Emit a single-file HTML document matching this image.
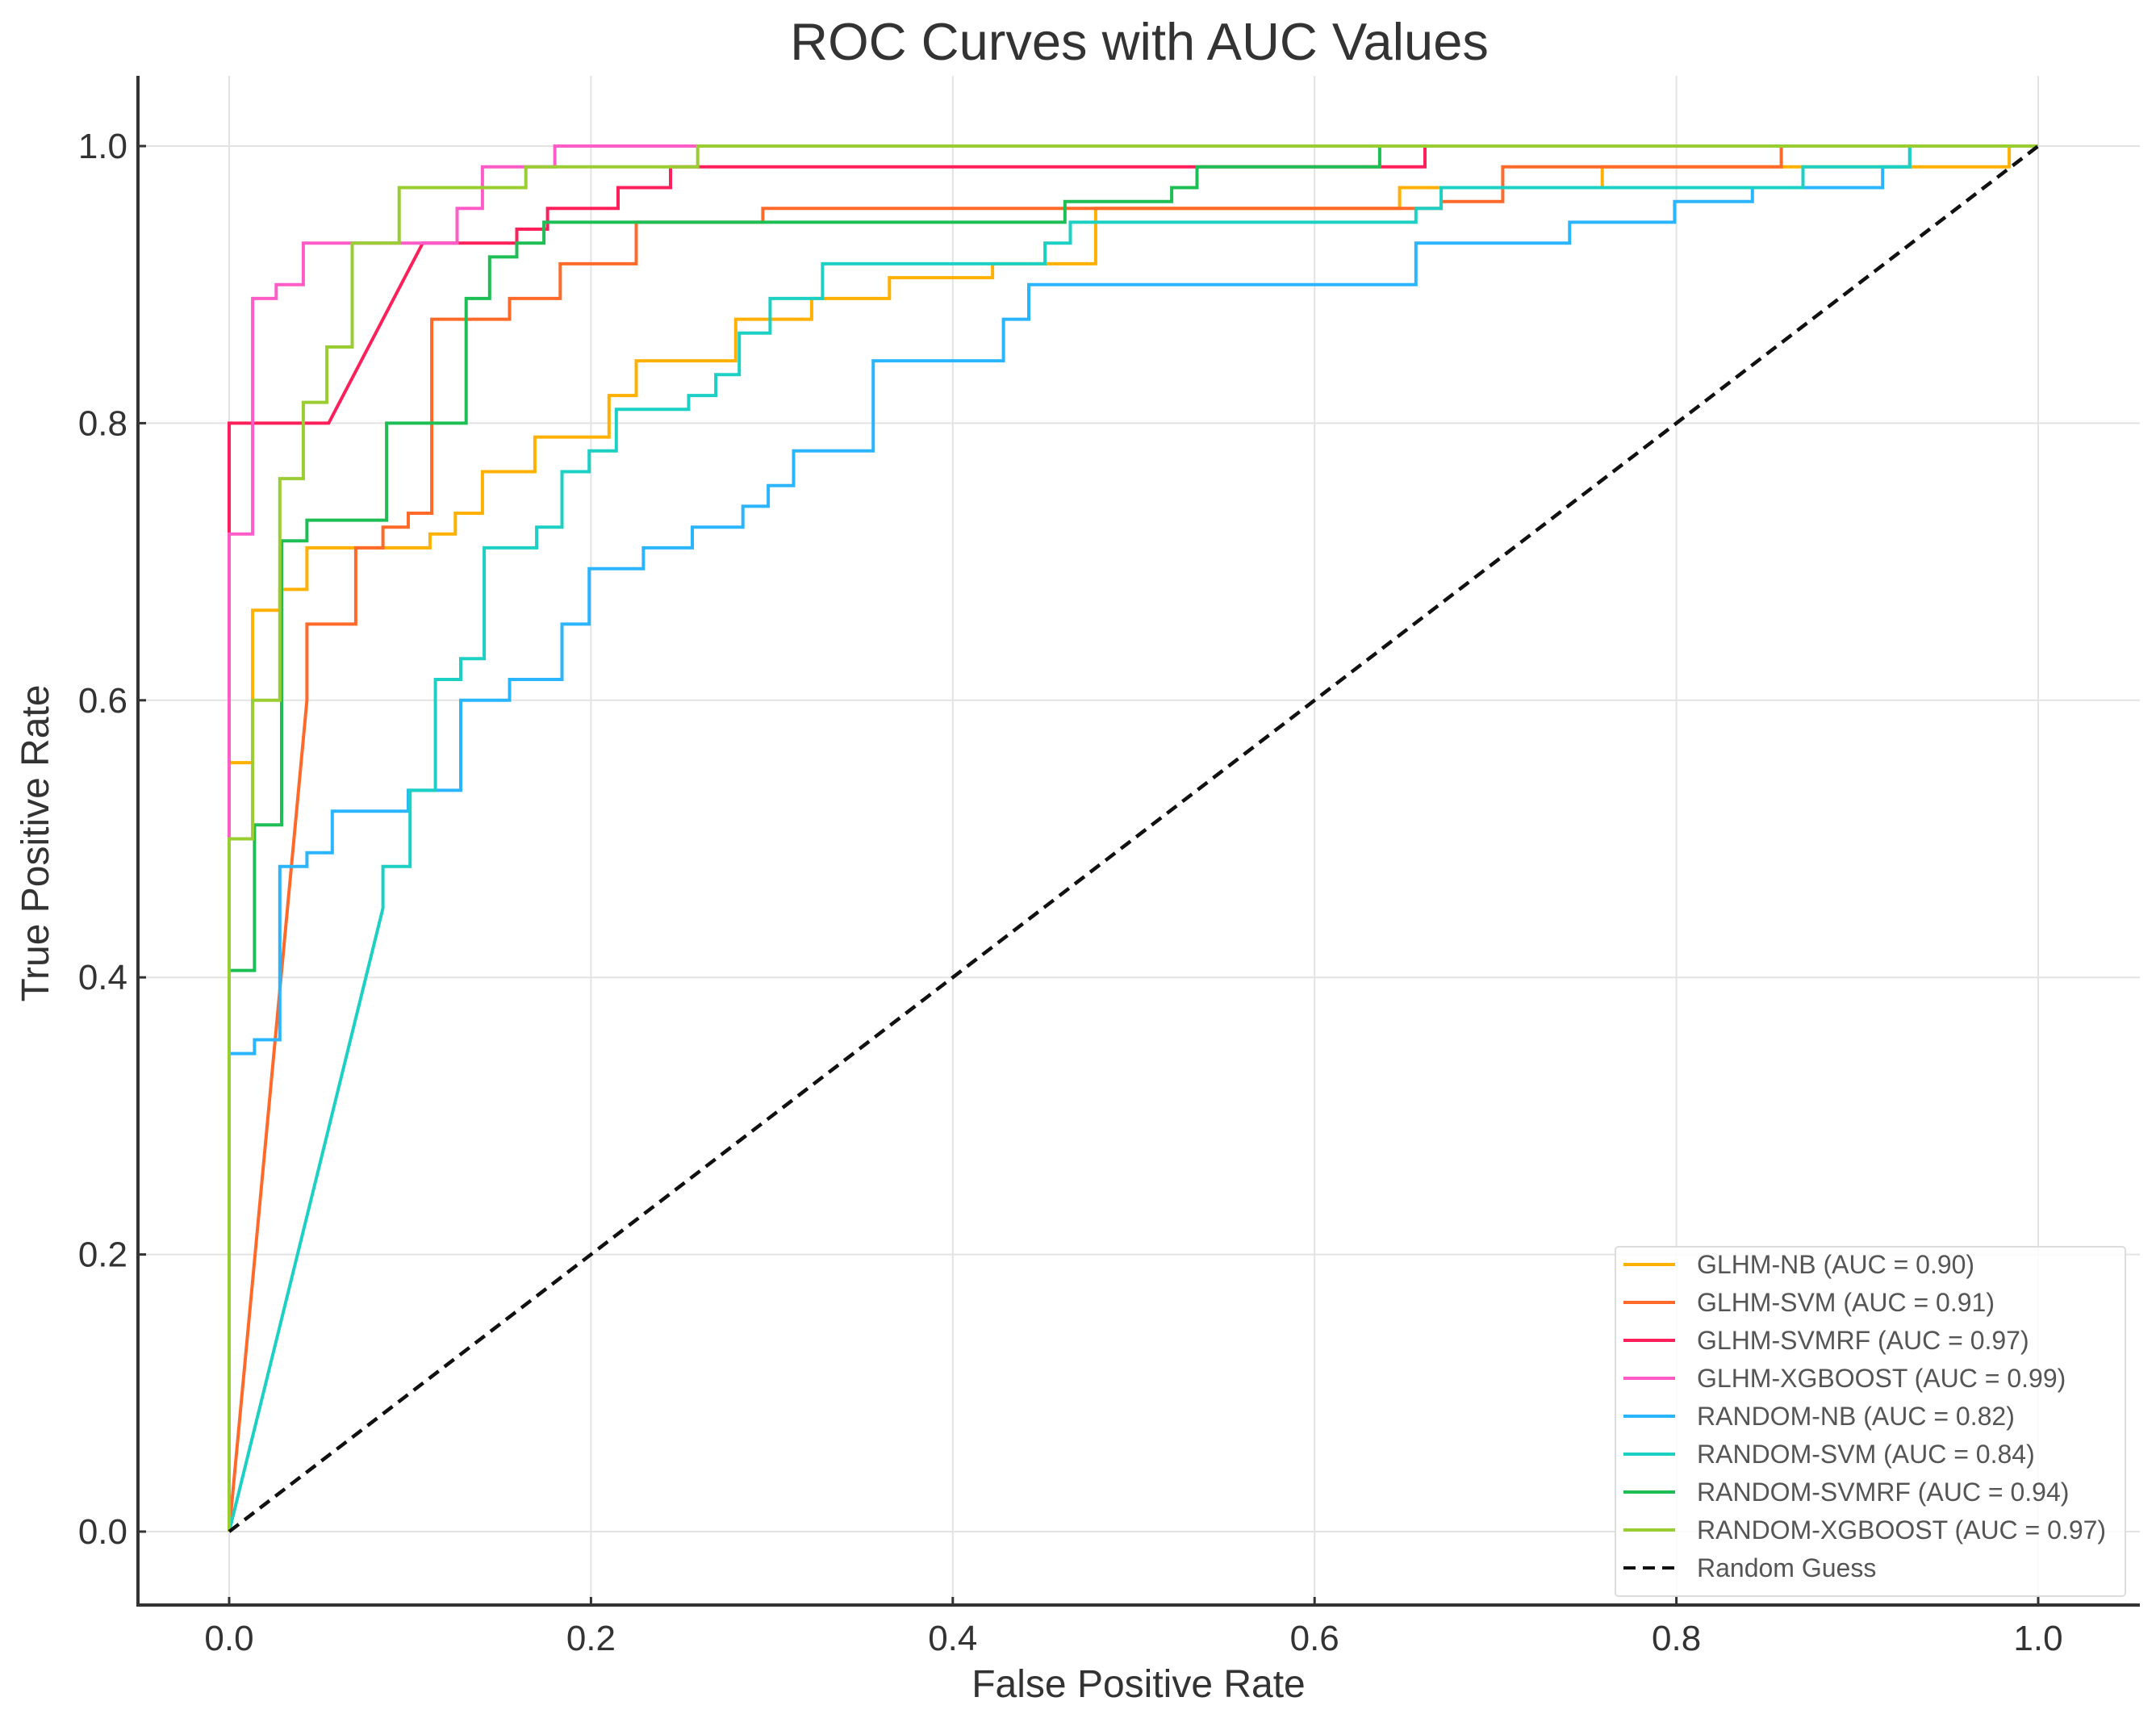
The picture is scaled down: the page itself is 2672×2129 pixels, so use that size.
<!DOCTYPE html>
<html><head><meta charset="utf-8"><style>
html,body{margin:0;padding:0;background:#fff;}
svg{display:block;font-family:"Liberation Sans","DejaVu Sans",sans-serif;}
</style></head><body>
<svg id="chart" width="2672" height="2129" viewBox="0 0 2672 2129" xmlns="http://www.w3.org/2000/svg">
<text x="1412" y="74" font-size="65" fill="#333" text-anchor="middle">ROC Curves with AUC Values</text>
<g id="grid"></g>
<g id="series"></g>
<g id="axes"></g>
<text x="1411" y="2103" font-size="48" fill="#333" text-anchor="middle">False Positive Rate</text>
<text x="0" y="0" font-size="48" fill="#333" text-anchor="middle" transform="translate(60,1045) rotate(-90)">True Positive Rate</text>
<g id="legend"></g>
</svg>
<script>
const ticks = [0, 0.2, 0.4, 0.6, 0.8, 1.0];
const tickLabels = ["0.0", "0.2", "0.4", "0.6", "0.8", "1.0"];
const seriesNames = ["GLHM-NB (AUC = 0.90)", "GLHM-SVM (AUC = 0.91)", "GLHM-SVMRF (AUC = 0.97)", "GLHM-XGBOOST (AUC = 0.99)", "RANDOM-NB (AUC = 0.82)", "RANDOM-SVM (AUC = 0.84)", "RANDOM-SVMRF (AUC = 0.94)", "RANDOM-XGBOOST (AUC = 0.97)"];
const seriesColors = ["#FFB000", "#FF6A2A", "#FF1F5B", "#FF5CC8", "#2CB5FF", "#1CD0C4", "#1DBF55", "#9ACD32"];
const fprGlhmNb = [0,0,0.013,0.013,0.028,0.028,0.043,0.043,0.111,0.111,0.125,0.125,0.14,0.14,0.169,0.169,0.21,0.21,0.225,0.225,0.28,0.28,0.322,0.322,0.365,0.365,0.422,0.422,0.479,0.479,0.647,0.647,0.759,0.759,0.984,0.984,1];
const tprGlhmNb = [0,0.555,0.555,0.665,0.665,0.68,0.68,0.71,0.71,0.72,0.72,0.735,0.735,0.765,0.765,0.79,0.79,0.82,0.82,0.845,0.845,0.875,0.875,0.89,0.89,0.905,0.905,0.915,0.915,0.955,0.955,0.97,0.97,0.985,0.985,1,1];
const fprGlhmSvm = [0,0.043,0.043,0.07,0.07,0.085,0.085,0.099,0.099,0.112,0.112,0.155,0.155,0.183,0.183,0.225,0.225,0.295,0.295,0.67,0.67,0.704,0.704,0.858,0.858,1];
const tprGlhmSvm = [0,0.6,0.655,0.655,0.71,0.71,0.725,0.725,0.735,0.735,0.875,0.875,0.89,0.89,0.915,0.915,0.945,0.945,0.955,0.955,0.96,0.96,0.985,0.985,1,1];
const fprGlhmSvmrf = [0,0,0.055,0.107,0.159,0.159,0.176,0.176,0.215,0.215,0.244,0.244,0.661,0.661,1];
const tprGlhmSvmrf = [0,0.8,0.8,0.93,0.93,0.94,0.94,0.955,0.955,0.97,0.97,0.985,0.985,1,1];
const fprGlhmXgb = [0,0,0,0.013,0.013,0.026,0.026,0.041,0.041,0.126,0.126,0.14,0.14,0.18,0.18,1];
const tprGlhmXgb = [0,0.5,0.72,0.72,0.89,0.89,0.90,0.90,0.93,0.93,0.955,0.955,0.985,0.985,1,1];
const fprRandNb = [0,0,0.014,0.014,0.028,0.028,0.043,0.043,0.057,0.057,0.099,0.099,0.128,0.128,0.155,0.155,0.184,0.184,0.199,0.199,0.229,0.229,0.256,0.256,0.284,0.284,0.298,0.298,0.312,0.312,0.356,0.356,0.428,0.428,0.442,0.442,0.656,0.656,0.741,0.741,0.799,0.799,0.842,0.842,0.914,0.914,0.929,0.929,1];
const tprRandNb = [0,0.345,0.345,0.355,0.355,0.48,0.48,0.49,0.49,0.52,0.52,0.535,0.535,0.6,0.6,0.615,0.615,0.655,0.655,0.695,0.695,0.71,0.71,0.725,0.725,0.74,0.74,0.755,0.755,0.78,0.78,0.845,0.845,0.875,0.875,0.9,0.9,0.93,0.93,0.945,0.945,0.96,0.96,0.97,0.97,0.985,0.985,1,1];
const fprRandSvm = [0,0.085,0.085,0.1,0.1,0.114,0.114,0.128,0.128,0.141,0.141,0.17,0.17,0.184,0.184,0.199,0.199,0.214,0.214,0.254,0.254,0.269,0.269,0.282,0.282,0.299,0.299,0.328,0.328,0.451,0.451,0.465,0.465,0.656,0.656,0.67,0.67,0.87,0.87,0.929,0.929,1];
const tprRandSvm = [0,0.45,0.48,0.48,0.535,0.535,0.615,0.615,0.63,0.63,0.71,0.71,0.725,0.725,0.765,0.765,0.78,0.78,0.81,0.81,0.82,0.82,0.835,0.835,0.865,0.865,0.89,0.89,0.915,0.915,0.93,0.93,0.945,0.945,0.955,0.955,0.97,0.97,0.985,0.985,1,1];
const fprRandSvmrf = [0,0,0.014,0.014,0.029,0.029,0.043,0.043,0.087,0.087,0.131,0.131,0.144,0.144,0.159,0.159,0.174,0.174,0.462,0.462,0.521,0.521,0.535,0.535,0.636,0.636,1];
const tprRandSvmrf = [0,0.405,0.405,0.51,0.51,0.715,0.715,0.73,0.73,0.8,0.8,0.89,0.89,0.92,0.92,0.93,0.93,0.945,0.945,0.96,0.96,0.97,0.97,0.985,0.985,1,1];
const fprRandXgb = [0,0,0.013,0.013,0.028,0.028,0.041,0.041,0.054,0.054,0.068,0.068,0.094,0.094,0.164,0.164,0.259,0.259,1];
const tprRandXgb = [0,0.5,0.5,0.6,0.6,0.76,0.76,0.815,0.815,0.855,0.855,0.93,0.93,0.97,0.97,0.985,0.985,1,1];
const guessX = [0, 1];
const guessY = [0, 1];

const NS = "http://www.w3.org/2000/svg";
const X0 = 284, XW = 2242, Y0 = 1898, YH = 1717;
function xS(v){ return X0 + v * XW; }
function yS(v){ return Y0 - v * YH; }
function mk(tag, attrs, parent){
  const e = document.createElementNS(NS, tag);
  for (const k in attrs) e.setAttribute(k, attrs[k]);
  parent.appendChild(e);
  return e;
}
const grid = document.getElementById('grid');
const axes = document.getElementById('axes');
ticks.forEach((t, i) => {
  const gv = mk('line', {x1:xS(t), x2:xS(t), y1:94, y2:1989, stroke:'#e3e3e3', 'stroke-width':2}, grid);
  
  
  const gh = mk('line', {x1:171, x2:2652, y1:yS(t), y2:yS(t), stroke:'#e3e3e3', 'stroke-width':2}, grid);
  
  
  const tx = mk('line', {x1:xS(t), x2:xS(t), y1:1989, y2:1979, stroke:'#333', 'stroke-width':3}, axes);
  
  
  const ty = mk('line', {x1:171, x2:181, y1:yS(t), y2:yS(t), stroke:'#333', 'stroke-width':3}, axes);
  
  
  const lx = mk('text', {x:xS(t), y:2045, 'font-size':44, fill:'#333', 'text-anchor':'middle'}, axes);
  lx.textContent = tickLabels[i];
  
  
  const ly = mk('text', {x:158, y:yS(t)+15, 'font-size':44, fill:'#333', 'text-anchor':'end'}, axes);
  ly.textContent = tickLabels[i];
  
  
});
const sl = mk('line', {x1:171, x2:171, y1:94, y2:1991, stroke:'#333', 'stroke-width':4}, axes);


const sb = mk('line', {x1:169, x2:2652, y1:1989, y2:1989, stroke:'#333', 'stroke-width':4}, axes);



const fprs = [fprGlhmNb, fprGlhmSvm, fprGlhmSvmrf, fprGlhmXgb, fprRandNb, fprRandSvm, fprRandSvmrf, fprRandXgb];
const tprs = [tprGlhmNb, tprGlhmSvm, tprGlhmSvmrf, tprGlhmXgb, tprRandNb, tprRandSvm, tprRandSvmrf, tprRandXgb];
const seriesKeys = ['glhm-nb','glhm-svm','glhm-svmrf','glhm-xgboost','random-nb','random-svm','random-svmrf','random-xgboost'];
const sg = document.getElementById('series');
fprs.forEach((fx, s) => {
  const pts = fx.map((v, i) => xS(v).toFixed(1) + ',' + yS(tprs[s][i]).toFixed(1)).join(' ');
  const pl = mk('polyline', {points:pts, fill:'none', stroke:seriesColors[s], 'stroke-width':4, 'stroke-linejoin':'miter'}, sg);
  
  
});
const gl = mk('line', {x1:xS(guessX[0]), y1:yS(guessY[0]), x2:xS(guessX[1]), y2:yS(guessY[1]), stroke:'#111', 'stroke-width':4.5, 'stroke-dasharray':'15,9'}, sg);



const lg = document.getElementById('legend');
const box = mk('rect', {x:2002, y:1545, width:632, height:433, fill:'#fff', 'fill-opacity':0.85, stroke:'#dcdcdc', 'stroke-width':2, rx:4}, lg);


const legendLabels = seriesNames.concat(['Random Guess']);
legendLabels.forEach((name, i) => {
  const y = 1567 + i * 47;
  const isGuess = i === seriesNames.length;
  const ln = mk('line', {x1:2012, x2:2076, y1:y, y2:y, stroke: isGuess ? '#111' : seriesColors[i], 'stroke-width':4, 'stroke-dasharray': isGuess ? '15,9' : 'none'}, lg);
  
  
  const tx = mk('text', {x:2103, y:y+11, 'font-size':32, fill:'#555'}, lg);
  tx.textContent = name;
  
  
});
</script>
</body></html>
